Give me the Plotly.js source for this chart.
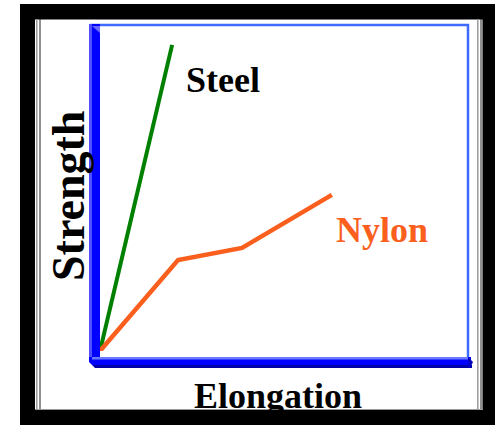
<!DOCTYPE html>
<html>
<head>
<meta charset="utf-8">
<script src="https://cdn.plot.ly/plotly-3.0.1.min.js"></script>
<style>html,body{margin:0;padding:0;background:#fff;}#chart{width:495px;height:425px;}</style>
</head>
<body>
<div id="chart"></div>
<script>
// ---- data (arbitrary units) ----
const seriesNames = ['Steel', 'Nylon'];
const steelX = [0, 1.96];
const steelY = [0, 9.39];
const nylonX = [0, 2.12, 3.86, 6.30];
const nylonY = [0, 2.79, 3.16, 4.79];
const xTitle = 'Elongation';
const yTitle = 'Strength';

// ---- layout helpers (pixel -> paper) ----
const W = 495, H = 425;
const X = px => px / W;
const Y = py => 1 - py / H;
const SERIF = '"Liberation Serif", "Times New Roman", serif';
const GREEN = '#008000', ORANGE = '#FA5F1E';

function rect(x0, y0, x1, y1, color) {
  return {type: 'rect', xref: 'paper', yref: 'paper', layer: 'below',
    x0: X(x0), x1: X(x1), y0: Y(y1), y1: Y(y0),
    fillcolor: color, line: {width: 0}};
}
function line(x0, y0, x1, y1, color, w) {
  return {type: 'line', xref: 'paper', yref: 'paper', layer: 'below',
    x0: X(x0), x1: X(x1), y0: Y(y0), y1: Y(y1), line: {color: color, width: w}};
}

const shapes = [
  // outer black frame
  rect(20, 4, 35, 425, '#000'),
  rect(20, 4, 495, 19.5, '#000'),
  rect(482.5, 4, 495, 425, '#000'),
  rect(20, 410, 495, 425, '#000'),
  // inner thin lines
  line(36.8, 19, 36.8, 410, '#9a9a9a', 1.5),
  line(40, 19, 40, 410, '#222', 1),
  line(477.8, 19, 477.8, 410, '#9a9a9a', 1.5),
  line(481, 19, 481, 410, '#222', 1),
  line(35, 409.5, 483, 409.5, '#9a9a9a', 1),
  // plot frame (thin blue)
  line(90, 25, 469, 25, '#3D6BFF', 2.5),
  line(468, 24, 468, 358, '#3D6BFF', 2.5),
  // left axis bar
  rect(89, 24, 100, 366, '#0000FF'),
  rect(89, 24, 92, 366, '#5050FF'),
  {type: 'path', xref: 'paper', yref: 'paper', layer: 'below',
   path: 'M' + X(92) + ',' + Y(26) + ' L' + X(100) + ',' + Y(33) + ' L' + X(100) + ',' + Y(26) + ' Z',
   fillcolor: '#6a6aff', line: {width: 0}},
  // bottom axis bar
  rect(89, 357, 471, 368, '#0000FF'),
  rect(92, 357, 468, 359.5, '#6a7aff'),
  rect(93, 365, 472, 368, '#0000A8'),
  {type: 'path', xref: 'paper', yref: 'paper', layer: 'below',
   path: 'M' + X(89) + ',' + Y(362) + ' L' + X(95) + ',' + Y(368) + ' L' + X(89) + ',' + Y(368) + ' Z',
   fillcolor: '#ffffff', line: {width: 0}},
  {type: 'path', xref: 'paper', yref: 'paper', layer: 'below',
   path: 'M' + X(468) + ',' + Y(357) + ' L' + X(473) + ',' + Y(362) + ' L' + X(470) + ',' + Y(368) + ' L' + X(468) + ',' + Y(368) + ' Z',
   fillcolor: '#0000C0', line: {width: 0}}
];

const traces = [
  {x: steelX, y: steelY, name: seriesNames[0], type: 'scatter', mode: 'lines',
   line: {color: GREEN, width: 4}, cliponaxis: false, hoverinfo: 'skip'},
  {x: nylonX, y: nylonY, name: seriesNames[1], type: 'scatter', mode: 'lines',
   line: {color: ORANGE, width: 4.5}, cliponaxis: false, hoverinfo: 'skip'}
];

const annotations = [
  {xref: 'x', yref: 'y', x: 3.34, y: 8.3, text: '<b>' + seriesNames[0] + '</b>', showarrow: false,
   font: {family: SERIF, size: 36, color: '#000'}, xanchor: 'center', yanchor: 'middle'},
  {xref: 'x', yref: 'y', x: 7.66, y: 3.70, text: '<b>' + seriesNames[1] + '</b>', showarrow: false,
   font: {family: SERIF, size: 36, color: ORANGE}, xanchor: 'center', yanchor: 'middle'},
  {xref: 'paper', yref: 'paper', x: X(68), y: Y(196), text: '<b>' + yTitle + '</b>', showarrow: false,
   textangle: -90, font: {family: SERIF, size: 46, color: '#000'}, xanchor: 'center', yanchor: 'middle'},
  {xref: 'paper', yref: 'paper', x: X(278), y: Y(396), text: '<b>' + xTitle + '</b>', showarrow: false,
   font: {family: SERIF, size: 36, color: '#000'}, xanchor: 'center', yanchor: 'middle'},
  // bottom black frame strip drawn over the clipped x title
  {xref: 'paper', yref: 'paper', x: X(257.5), y: 0, text: ' ', showarrow: false,
   width: 475, height: 15, bgcolor: '#000', borderpad: 0, borderwidth: 0,
   xanchor: 'center', yanchor: 'bottom', font: {size: 10, color: '#000'}}
];

const layout = {
  width: W, height: H,
  margin: {l: 0, r: 0, t: 0, b: 0, pad: 0},
  paper_bgcolor: '#fff', plot_bgcolor: 'rgba(0,0,0,0)',
  showlegend: false,
  xaxis: {domain: [X(100), X(468)], range: [0, 10], visible: false, fixedrange: true},
  yaxis: {domain: [Y(351), Y(25)], range: [0, 10], visible: false, fixedrange: true},
  shapes: shapes,
  annotations: annotations
};

Plotly.newPlot('chart', traces, layout, {staticPlot: true, displayModeBar: false});
</script>
</body>
</html>
